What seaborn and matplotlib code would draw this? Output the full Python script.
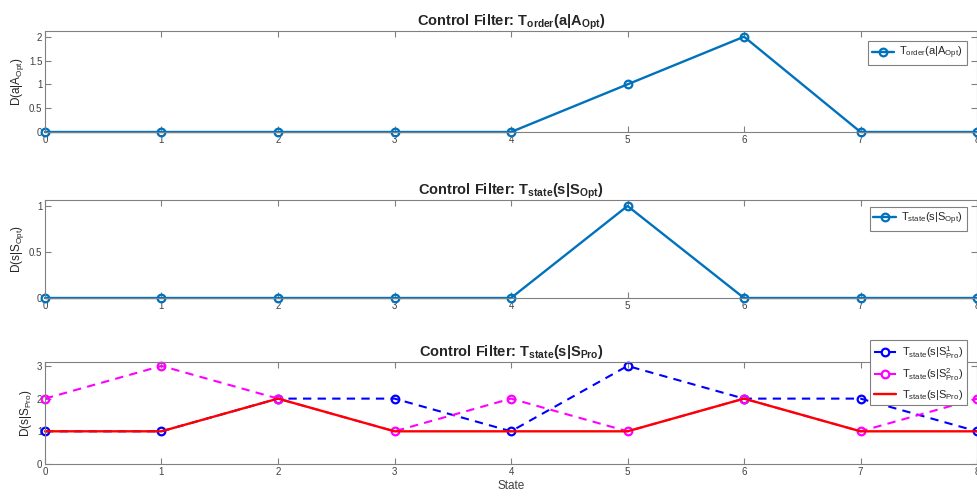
import matplotlib
matplotlib.use("Agg")
import matplotlib.pyplot as plt
import seaborn as sns
import pandas as pd

# data
states = [0, 1, 2, 3, 4, 5, 6, 7, 8]
t_order_opt = [0, 0, 0, 0, 0, 1, 2, 0, 0]
t_state_opt = [0, 0, 0, 0, 0, 1, 0, 0, 0]
t_state_pro1 = [1, 1, 2, 2, 1, 3, 2, 2, 1]
t_state_pro2 = [2, 3, 2, 1, 2, 1, 2, 1, 2]
t_state_pro = [1, 1, 2, 1, 1, 1, 2, 1, 1]

sns.set_style("white")
plt.rcParams["font.family"] = ["Liberation Sans", "DejaVu Sans"]
plt.rcParams["mathtext.fontset"] = "custom"
plt.rcParams["mathtext.rm"] = "Liberation Sans"
plt.rcParams["mathtext.it"] = "Liberation Sans"
plt.rcParams["mathtext.bf"] = "Liberation Sans:bold"

df = pd.DataFrame({
    "state": states,
    "order_opt": t_order_opt,
    "state_opt": t_state_opt,
    "pro1": t_state_pro1,
    "pro2": t_state_pro2,
    "pro": t_state_pro,
})

fig = plt.figure(figsize=(9.78, 5.0), dpi=100)
left, width = 0.046, 0.953
ax1 = fig.add_axes([left, 0.736, width, 0.202])
ax2 = fig.add_axes([left, 0.404, width, 0.196])
ax3 = fig.add_axes([left, 0.072, width, 0.204])

mblue = "#0072BD"
gray = "#808080"
txt = "#404040"


def style_axes(ax, ylabel, yticks, yticklabels, ylim):
    ax.set_xlim(0, 8)
    ax.set_ylim(*ylim)
    ax.set_xticks(states)
    ax.set_yticks(yticks)
    ax.set_yticklabels(yticklabels)
    ax.tick_params(direction="in", length=4, width=0.8, colors=gray,
                   labelcolor=txt, labelsize=7, top=True, right=True,
                   left=True, bottom=True, pad=2)
    for s in ax.spines.values():
        s.set_color(gray)
        s.set_linewidth(0.8)
    ax.set_ylabel(ylabel, fontsize=8.5, color="#262626", labelpad=2)
    ax.set_xlabel("")
    for ln in ax.get_lines():
        ln.set_clip_on(False)


sns.lineplot(data=df, x="state", y="order_opt", ax=ax1, color=mblue, lw=1.7,
             marker="o", markersize=5.5, markerfacecolor="none",
             markeredgecolor=mblue, markeredgewidth=1.6,
             label=r"$\mathrm{T_{order}(a|A_{Opt})}$")
style_axes(ax1, r"$\mathrm{D(a|A_{Opt})}$", [0, 0.5, 1, 1.5, 2],
           ["0", "0.5", "1", "1.5", "2"], (0, 2.12))
ax1.set_title(r"Control Filter: $\mathbf{T_{order}(a|A_{Opt})}$",
              fontsize=10.5, fontweight="bold", pad=4)

sns.lineplot(data=df, x="state", y="state_opt", ax=ax2, color=mblue, lw=1.7,
             marker="o", markersize=5.5, markerfacecolor="none",
             markeredgecolor=mblue, markeredgewidth=1.6,
             label=r"$\mathrm{T_{state}(s|S_{Opt})}$")
style_axes(ax2, r"$\mathrm{D(s|S_{Opt})}$", [0, 0.5, 1],
           ["0", "0.5", "1"], (0, 1.065))
ax2.set_title(r"Control Filter: $\mathbf{T_{state}(s|S_{Opt})}$",
              fontsize=10.5, fontweight="bold", pad=4)

sns.lineplot(data=df, x="state", y="pro1", ax=ax3, color="#0000FF", lw=1.5,
             linestyle="--", marker="o", markersize=5.5, markerfacecolor="none",
             markeredgecolor="#0000FF", markeredgewidth=1.6,
             label=r"$\mathrm{T_{state}(s|S_{Pro}^{1})}$")
sns.lineplot(data=df, x="state", y="pro2", ax=ax3, color="#FF00FF", lw=1.5,
             linestyle="--", marker="o", markersize=5.5, markerfacecolor="none",
             markeredgecolor="#FF00FF", markeredgewidth=1.6,
             label=r"$\mathrm{T_{state}(s|S_{Pro}^{2})}$")
sns.lineplot(data=df, x="state", y="pro", ax=ax3, color="#FF0000", lw=1.7,
             label=r"$\mathrm{T_{state}(s|S_{Pro})}$")
for ln in ax3.get_lines()[:2]:
    ln.set_linestyle((0, (4, 3)))
style_axes(ax3, r"$\mathrm{D(s|S_{Pro})}$", [0, 1, 2, 3],
           ["0", "1", "2", "3"], (0, 3.12))
ax3.set_xlabel("State", fontsize=8.5, color="#404040", labelpad=2)
ax3.set_title(r"Control Filter: $\mathbf{T_{state}(s|S_{Pro})}$",
              fontsize=10.5, fontweight="bold", pad=4)

leg_kw = dict(fontsize=8, frameon=True, fancybox=False, handlelength=2.0,
              handletextpad=0.5, borderpad=0.35, labelspacing=0.45,
              borderaxespad=0, edgecolor=gray, framealpha=1)
l1 = ax1.legend(loc="upper right", bbox_to_anchor=(0.989, 0.90), **leg_kw)
l2 = ax2.legend(loc="upper right", bbox_to_anchor=(0.989, 0.93), **leg_kw)
l3 = ax3.legend(loc="upper right", bbox_to_anchor=(0.989, 1.215), **leg_kw)
for lg in (l1, l2, l3):
    lg.get_frame().set_linewidth(0.8)
    lg.set_zorder(5)

fig.savefig("out.png", dpi=100)
